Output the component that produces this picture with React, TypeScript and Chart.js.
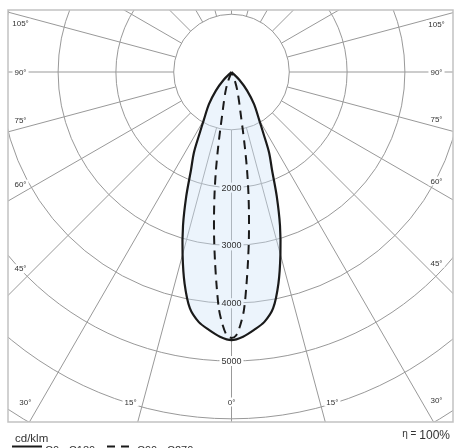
import React, { useEffect, useRef } from "react";
import { Chart, registerables } from "chart.js";

Chart.register(...registerables);

// ---- Data (cd/klm vs. gamma angle in degrees, 0° = straight down) ----
const gammaC0C180 = [0, 2.5, 5, 7.5, 10, 12.5, 15, 17.5, 20, 22.5, 25, 27.5, 30, 35, 40, 45, 50];
const intensityC0 = [4640, 4585, 4480, 4360, 4150, 3750, 3270, 2790, 2290, 1830, 1540, 1190, 960, 680, 420, 190, 0];
const intensityC180 = [4640, 4585, 4480, 4360, 4150, 3750, 3270, 2790, 2290, 1830, 1540, 1190, 960, 680, 420, 190, 0];

const gammaC90C270 = [0, 1, 2, 3, 4, 5, 6, 7, 8, 9, 10, 11, 12, 14, 17, 20, 25];
const intensityC90 = [4600, 4560, 4380, 4120, 3700, 3280, 2880, 2480, 2100, 1720, 1350, 1030, 800, 560, 360, 200, 0];
const intensityC270 = [4600, 4560, 4380, 4120, 3700, 3280, 2880, 2480, 2100, 1720, 1350, 1030, 800, 560, 360, 200, 0];

const ringValues = [1000, 2000, 3000, 4000, 5000, 6000, 7000, 8000];
const ringLabels = [2000, 3000, 4000, 5000];
const angleLabels = [0, 15, 30, 45, 60, 75, 90, 105];
const spokeStep = 15;

const legendUnit = "cd/klm";
const legendSolid = "C0 - C180";
const legendDashed = "C90 - C270";
const efficiencySymbol = "\u03b7 =";
const efficiencyValue = "100%";

// ---- Layout constants ----
const W = 454;
const H = 448;
const PAD = { left: 8, top: 10, right: 1, bottom: 26 };
const CX_PX = 231.5; // pixel of the pole
const CY_PX = 72;
const PX_PER_1000 = 57.8;
const X_MIN = -((CX_PX - PAD.left) / PX_PER_1000) * 1000;
const X_MAX = ((W - PAD.right - CX_PX) / PX_PER_1000) * 1000;
const Y_MAX = ((CY_PX - PAD.top) / PX_PER_1000) * 1000;
const Y_MIN = -((H - PAD.bottom - CY_PX) / PX_PER_1000) * 1000;

const FONT = '"Liberation Sans", Arial, sans-serif';
const GRID = "#999999";
const LOBE_FILL = "rgba(205, 226, 246, 0.38)";

function lobe(gammas: number[], rightVals: number[], leftVals: number[]) {
  const pts: { x: number; y: number }[] = [];
  for (let i = gammas.length - 1; i >= 0; i--) {
    const g = (gammas[i] * Math.PI) / 180;
    pts.push({ x: -leftVals[i] * Math.sin(g), y: -leftVals[i] * Math.cos(g) });
  }
  for (let i = 1; i < gammas.length; i++) {
    const g = (gammas[i] * Math.PI) / 180;
    pts.push({ x: rightVals[i] * Math.sin(g), y: -rightVals[i] * Math.cos(g) });
  }
  return pts;
}

function labelBox(ctx: CanvasRenderingContext2D, text: string, x: number, y: number, h: number) {
  const w = ctx.measureText(text).width;
  ctx.fillStyle = "#ffffff";
  ctx.fillRect(x - w / 2 - 2, y - h / 2, w + 4, h);
}

const polarPlugin = {
  id: "polarPlugin",
  beforeDatasetsDraw(chart: any) {
    const { ctx, chartArea: a, scales } = chart;
    const xs = scales.x;
    const ys = scales.y;
    const P = (vx: number, vy: number) => [xs.getPixelForValue(vx), ys.getPixelForValue(vy)];
    const [cx, cy] = P(0, 0);

    ctx.save();
    ctx.fillStyle = "#ffffff";
    ctx.fillRect(a.left, a.top, a.right - a.left, a.bottom - a.top);
    ctx.beginPath();
    ctx.rect(a.left, a.top, a.right - a.left, a.bottom - a.top);
    ctx.clip();

    ctx.strokeStyle = GRID;
    ctx.lineWidth = 1;
    // rings
    for (const v of ringValues) {
      const rx = xs.getPixelForValue(v) - cx;
      const ry = ys.getPixelForValue(-v) - cy;
      ctx.beginPath();
      ctx.ellipse(cx, cy, rx, ry, 0, 0, Math.PI * 2);
      ctx.stroke();
    }
    // spokes
    const r0 = ringValues[0];
    const r1 = ringValues[ringValues.length - 1] * 1.5;
    for (let g = 0; g < 360; g += spokeStep) {
      const rad = (g * Math.PI) / 180;
      const [x0, y0] = P(r0 * Math.sin(rad), -r0 * Math.cos(rad));
      const [x1, y1] = P(r1 * Math.sin(rad), -r1 * Math.cos(rad));
      ctx.beginPath();
      ctx.moveTo(x0, y0);
      ctx.lineTo(x1, y1);
      ctx.stroke();
    }

    // ring label backgrounds (text drawn after the fill)
    ctx.font = `9px ${FONT}`;
    ctx.textAlign = "center";
    ctx.textBaseline = "middle";
    for (const v of ringLabels) {
      const [lx, ly] = P(0, -v);
      labelBox(ctx, String(v), lx, ly, 10);
    }

    // angle labels
    ctx.font = `8px ${FONT}`;
    const leftX = a.left + 12.5;
    const rightX = a.right - 16.5;
    const bottomY = a.bottom - 20;
    for (const g of angleLabels) {
      const sides = g === 0 ? [1] : [-1, 1];
      for (const s of sides) {
        const gp = g === 0 || g === 90 ? g : g < 90 ? g + 2 : g - 2;
        const rad = (gp * Math.PI) / 180;
        const ux = s * Math.sin(rad);
        const uy = Math.cos(rad);
        const tSide = Math.abs(ux) > 1e-6 ? (ux < 0 ? cx - leftX : rightX - cx) / Math.abs(ux) : Infinity;
        const tBottom = uy > 1e-6 ? (bottomY - cy) / uy : Infinity;
        const tTop = uy < -1e-6 ? (cy - a.top - 6) / -uy : Infinity;
        const t = Math.min(tSide, tBottom, tTop);
        if (t === tTop) continue;
        const lx = cx + ux * t;
        const ly = cy + uy * t;
        const txt = `${g}\u00b0`;
        labelBox(ctx, txt, lx, ly, 9);
        ctx.fillStyle = "#333333";
        ctx.fillText(txt, lx, ly + 0.5);
      }
    }

    // lobe fill of the C0-C180 curve
    const meta = chart.getDatasetMeta(0);
    const line: any = meta && meta.dataset;
    if (line && line.points && line.points.length) {
      if (line.updateControlPoints) line.updateControlPoints(a, "x");
      ctx.beginPath();
      line.path(ctx);
      ctx.closePath();
      ctx.fillStyle = LOBE_FILL;
      ctx.fill();
    }

    // ring label texts
    ctx.font = `9px ${FONT}`;
    ctx.fillStyle = "#333333";
    for (const v of ringLabels) {
      const [lx, ly] = P(0, -v);
      ctx.fillText(String(v), lx, ly + 0.5);
    }
    ctx.restore();
  },
  afterDraw(chart: any) {
    const { ctx, chartArea: a } = chart;
    ctx.save();
    // frame
    ctx.strokeStyle = "#c2c2c2";
    ctx.lineWidth = 1.5;
    ctx.strokeRect(a.left, a.top, a.right - a.left, a.bottom - a.top);

    // legend
    ctx.fillStyle = "#333333";
    ctx.textAlign = "left";
    ctx.textBaseline = "alphabetic";
    ctx.font = `11.5px ${FONT}`;
    ctx.fillText(legendUnit, 15, 442);

    ctx.strokeStyle = "#1a1a1a";
    ctx.lineWidth = 2;
    ctx.beginPath();
    ctx.moveTo(12, 446.5);
    ctx.lineTo(42, 446.5);
    ctx.stroke();
    ctx.font = `11px ${FONT}`;
    ctx.fillStyle = "#333333";
    ctx.fillText(legendSolid, 45, 454);

    ctx.beginPath();
    ctx.setLineDash([8, 6]);
    ctx.moveTo(107, 446.5);
    ctx.lineTo(130, 446.5);
    ctx.stroke();
    ctx.setLineDash([]);
    ctx.fillText(legendDashed, 137, 454);

    // efficiency
    ctx.textAlign = "right";
    ctx.font = `12px ${FONT}`;
    const vw = ctx.measureText(efficiencyValue).width;
    ctx.fillText(efficiencyValue, 450, 439);
    ctx.font = `10px ${FONT}`;
    ctx.fillText(efficiencySymbol, 450 - vw - 3, 437);
    ctx.restore();
  },
};

export default function App() {
  const ref = useRef<HTMLCanvasElement | null>(null);
  useEffect(() => {
    if (!ref.current) return;
    const chart = new Chart(ref.current, {
      type: "scatter",
      data: {
        datasets: [
          {
            label: legendSolid,
            data: lobe(gammaC0C180, intensityC0, intensityC180),
            showLine: true,
            borderColor: "#1a1a1a",
            borderWidth: 2.2,
            pointRadius: 0,
            tension: 0.3,
            fill: false,
          },
          {
            label: legendDashed,
            data: lobe(gammaC90C270, intensityC90, intensityC270),
            showLine: true,
            borderColor: "#1a1a1a",
            borderWidth: 2,
            borderDash: [9, 6],
            pointRadius: 0,
            tension: 0.3,
            fill: false,
          },
        ],
      },
      options: {
        animation: false,
        responsive: true,
        maintainAspectRatio: false,
        layout: { padding: PAD },
        plugins: { legend: { display: false }, tooltip: { enabled: false } },
        scales: {
          x: { type: "linear", min: X_MIN, max: X_MAX, display: false },
          y: { type: "linear", min: Y_MIN, max: Y_MAX, display: false },
        },
      },
      plugins: [polarPlugin],
    } as any);
    return () => chart.destroy();
  }, []);
  return (
    <div style={{ position: "absolute", left: 0, top: 0, width: W, height: H, background: "#fff" }}>
      <canvas ref={ref} style={{ display: "block" }} />
    </div>
  );
}
